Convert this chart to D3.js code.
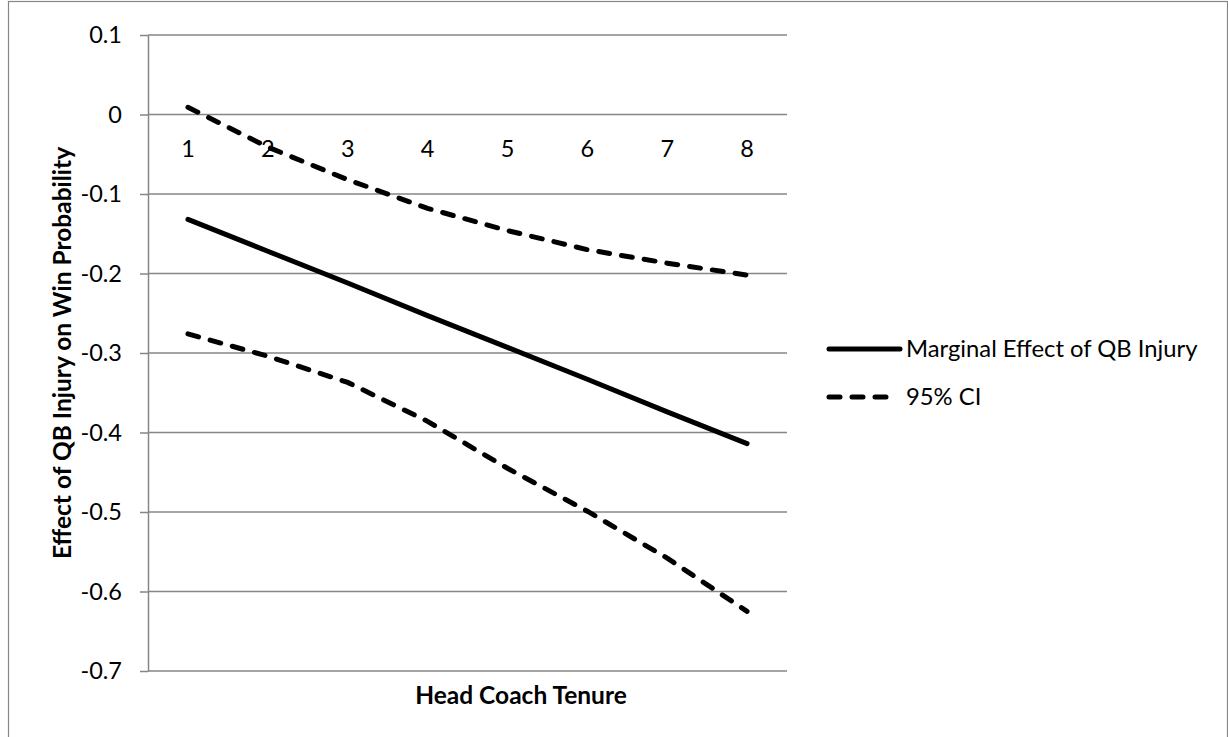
<!DOCTYPE html>
<html>
<head>
<meta charset="utf-8">
<script src="https://cdn.jsdelivr.net/npm/d3@7"></script>
<style>
  html, body { margin: 0; padding: 0; background: #fff; }
  svg { display: block; }
  text { font-family: Lato, "Open Sans", sans-serif; fill: #000; }
</style>
</head>
<body>
<svg id="chart" width="1228" height="737"></svg>
<script>
// ---- data ----
const categories = ["1", "2", "3", "4", "5", "6", "7", "8"];
const marginalEffect = [-0.132, -0.172, -0.212, -0.253, -0.293, -0.333, -0.374, -0.414];
const upperCI = [0.009, -0.041, -0.082, -0.118, -0.146, -0.170, -0.187, -0.202];
const lowerCI = [-0.276, -0.304, -0.337, -0.386, -0.445, -0.499, -0.558, -0.625];
const yTicks = [0.1, 0, -0.1, -0.2, -0.3, -0.4, -0.5, -0.6, -0.7];
const seriesNames = ["Marginal Effect of QB Injury", "95% CI"];
const xTitle = "Head Coach Tenure";
const yTitle = "Effect of QB Injury on Win Probability";

// ---- layout ----
const svg = d3.select("#chart");
const plot = { left: 148, right: 787, top: 35, bottom: 671 };
const gridColor = "#868686";

// outer chart border
svg.append("rect")
  .attr("x", 8.5).attr("y", 1.5)
  .attr("width", 1219).attr("height", 760)
  .attr("fill", "none").attr("stroke", gridColor).attr("stroke-width", 1.2);

const x = d3.scaleBand().domain(categories).range([plot.left, plot.right]);
const y = d3.scaleLinear().domain([-0.7, 0.1]).range([plot.bottom, plot.top]);
const cx = c => x(c) + x.bandwidth() / 2;

const fmt = d => (Math.abs(d) < 1e-9 ? "0" : String(+d.toFixed(1)));

// gridlines
svg.append("g").selectAll("line")
  .data(yTicks)
  .join("line")
  .attr("x1", plot.left).attr("x2", plot.right)
  .attr("y1", d => y(d)).attr("y2", d => y(d))
  .attr("stroke", gridColor).attr("stroke-width", 1.5);

// y axis
const yAxis = svg.append("g")
  .attr("transform", `translate(${plot.left},0)`)
  .call(d3.axisLeft(y).tickValues(yTicks).tickFormat(fmt).tickSize(8).tickPadding(18).tickSizeOuter(0));
yAxis.select(".domain").attr("stroke", gridColor).attr("stroke-width", 1.5);
yAxis.selectAll(".tick line").attr("stroke", gridColor).attr("stroke-width", 1.5);
yAxis.selectAll(".tick text")
  .attr("font-family", "Lato, sans-serif")
  .attr("font-size", 23.5)
  .attr("fill", "#000");

// x axis (category labels on the zero line)
const xAxis = svg.append("g")
  .attr("transform", `translate(0,${y(0)})`)
  .call(d3.axisBottom(x).tickSize(0).tickPadding(0));
xAxis.select(".domain").remove();
xAxis.selectAll(".tick text")
  .attr("y", 34).attr("dy", "0.35em")
  .attr("font-family", "Lato, sans-serif")
  .attr("font-size", 23.5)
  .attr("fill", "#000");

// lines
const line = d3.line().x((d, i) => cx(categories[i])).y(d => y(d));

svg.append("path")
  .datum(marginalEffect)
  .attr("d", line)
  .attr("fill", "none").attr("stroke", "#000")
  .attr("stroke-width", 5).attr("stroke-linecap", "round").attr("stroke-linejoin", "round");

[upperCI, lowerCI].forEach(s => {
  svg.append("path")
    .datum(s)
    .attr("d", line)
    .attr("fill", "none").attr("stroke", "#000")
    .attr("stroke-width", 5).attr("stroke-linecap", "round")
    .attr("stroke-dasharray", "11 12");
});

// axis titles
svg.append("text")
  .attr("x", 521).attr("y", 695).attr("dy", "0.35em")
  .attr("text-anchor", "middle")
  .attr("font-size", 24.5).attr("font-weight", "bold")
  .text(xTitle);

svg.append("text")
  .attr("transform", `translate(62,${(plot.top + plot.bottom) / 2}) rotate(-90)`)
  .attr("dy", "0.35em")
  .attr("text-anchor", "middle")
  .attr("font-size", 24.5).attr("font-weight", "bold")
  .text(yTitle);

// legend
const legend = svg.append("g");
legend.append("line")
  .attr("x1", 829).attr("x2", 900).attr("y1", 349).attr("y2", 349)
  .attr("stroke", "#000").attr("stroke-width", 5).attr("stroke-linecap", "round");
legend.append("line")
  .attr("x1", 829).attr("x2", 888).attr("y1", 397).attr("y2", 397)
  .attr("stroke", "#000").attr("stroke-width", 5).attr("stroke-linecap", "round")
  .attr("stroke-dasharray", "11 12");
legend.append("text")
  .attr("x", 906).attr("y", 349).attr("dy", "0.35em")
  .attr("font-size", 23.8)
  .text(seriesNames[0]);
legend.append("text")
  .attr("x", 906).attr("y", 397).attr("dy", "0.35em")
  .attr("font-size", 23.8)
  .text(seriesNames[1]);
</script>
</body>
</html>
